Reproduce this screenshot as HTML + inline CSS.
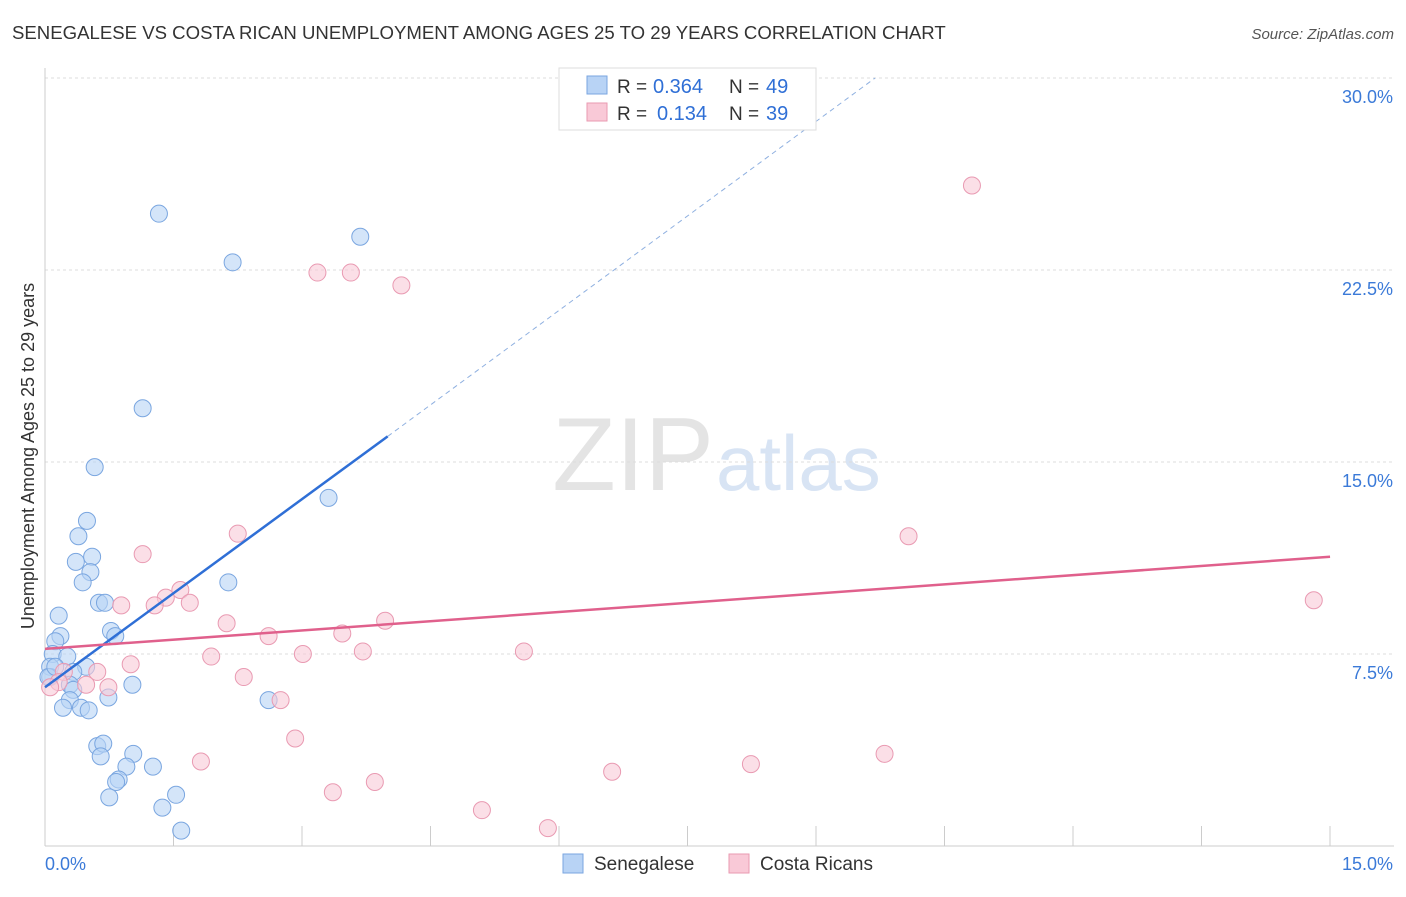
<!DOCTYPE html>
<html><head><meta charset="utf-8"><style>
body{margin:0;background:#fff;font-family:"Liberation Sans",sans-serif;}
svg text{font-family:"Liberation Sans",sans-serif;}
</style></head><body>
<svg width="1406" height="892" id="c">
<text x="12" y="39" font-size="18.6" fill="#333">SENEGALESE VS COSTA RICAN UNEMPLOYMENT AMONG AGES 25 TO 29 YEARS CORRELATION CHART</text>
<text x="1394" y="39" font-size="15" fill="#555" font-style="italic" text-anchor="end">Source: ZipAtlas.com</text>
<text x="714" y="490" font-size="104" fill="#e4e4e4" font-family="Liberation Serif" text-anchor="end">ZIP</text>
<text x="716" y="490" font-size="78" fill="#d8e4f4">atlas</text>
<text x="34" y="456" font-size="18" fill="#333" text-anchor="middle" transform="rotate(-90 34 456)">Unemployment Among Ages 25 to 29 years</text>
<g id="grid"></g><g id="marks"></g>
<g>
<rect x="559" y="68" width="257" height="62" fill="#fff" stroke="#ddd"/>
<rect x="587" y="76" width="20" height="18" fill="#b8d3f5" stroke="#7aa6e0"/>
<text x="617" y="93" font-size="19" fill="#333">R =</text>
<text x="653" y="93" font-size="20" fill="#2f6fd6">0.364</text>
<text x="729" y="93" font-size="19" fill="#333">N =</text>
<text x="766" y="93" font-size="20" fill="#2f6fd6">49</text>
<rect x="587" y="103" width="20" height="18" fill="#f9c9d7" stroke="#e99ab2"/>
<text x="617" y="120" font-size="19" fill="#333">R =</text>
<text x="657" y="120" font-size="20" fill="#2f6fd6">0.134</text>
<text x="729" y="120" font-size="19" fill="#333">N =</text>
<text x="766" y="120" font-size="20" fill="#2f6fd6">39</text>
</g>
<g>
<rect x="563" y="854" width="20" height="19" fill="#b8d3f5" stroke="#7aa6e0"/>
<text x="594" y="870" font-size="19" fill="#333">Senegalese</text>
<rect x="729" y="854" width="20" height="19" fill="#f9c9d7" stroke="#e99ab2"/>
<text x="760" y="870" font-size="19" fill="#333">Costa Ricans</text>
</g>
</svg>
<script>
const yTicks=[7.5,15,22.5,30];
const xTickLabels=["0.0%","15.0%"];
const blueX=[1.33,2.19,3.68,1.14,0.58,3.31,0.49,0.39,0.55,0.36,0.53,0.44,2.14,0.16,0.63,0.70,0.77,0.18,0.82,0.12,0.09,0.26,0.48,0.06,0.33,0.06,0.29,0.33,1.02,0.74,0.29,2.61,0.21,0.42,0.51,0.61,0.68,0.65,1.03,1.26,0.95,0.86,0.83,0.75,1.53,1.37,1.59,0.04,0.12];
const blueY=[24.7,22.8,23.8,17.1,14.8,13.6,12.7,12.1,11.3,11.1,10.7,10.3,10.3,9.0,9.5,9.5,8.4,8.2,8.2,8.0,7.5,7.4,7.0,7.0,6.8,6.6,6.3,6.1,6.3,5.8,5.7,5.7,5.4,5.4,5.3,3.9,4.0,3.5,3.6,3.1,3.1,2.6,2.5,1.9,2.0,1.5,0.6,6.6,7.0];
const pinkX=[10.82,3.18,3.57,4.16,10.08,2.25,1.14,1.58,1.41,1.28,1.69,0.89,2.12,3.97,2.61,3.47,3.71,5.59,1.94,3.01,1.00,0.61,0.22,2.32,0.48,0.16,0.74,2.75,0.06,2.92,1.82,9.80,8.24,6.62,3.85,3.36,5.10,5.87,14.81];
const pinkY=[25.8,22.4,22.4,21.9,12.1,12.2,11.4,10.0,9.7,9.4,9.5,9.4,8.7,8.8,8.2,8.3,7.6,7.6,7.4,7.5,7.1,6.8,6.8,6.6,6.3,6.4,6.2,5.7,6.2,4.2,3.3,3.6,3.2,2.9,2.5,2.1,1.4,0.7,9.6];
const blueTrend=[[0,6.2],[4.0,16.0],[9.69,30.0]];
const pinkTrend=[[0,7.7],[15,11.3]];
const X=v=>45+v*85.67, Y=v=>846-v*25.6;
const NS="http://www.w3.org/2000/svg";
function mk(t,a,p){const e=document.createElementNS(NS,t);for(const k in a)e.setAttribute(k,a[k]);p.appendChild(e);return e;}
const g=document.getElementById('grid'),m=document.getElementById('marks');
yTicks.forEach(t=>{
 const l=mk('line',{x1:45,x2:1394,y1:Y(t),y2:Y(t),stroke:'#ddd','stroke-dasharray':'3,3'},g);
 
 
 const tx=mk('text',{x:1393,y:Y(t)+25,'font-size':18,fill:'#3b7ad8','text-anchor':'end'},g);tx.textContent=t.toFixed(1)+'%';
 
 
});
const ax=mk('line',{x1:45,x2:45,y1:68,y2:846,stroke:'#ccc'},g);


const bx=mk('line',{x1:45,x2:1394,y1:846,y2:846,stroke:'#ccc'},g);


for(let i=0;i<=10;i++){const x=45+i*128.5;const t=mk('line',{x1:x,x2:x,y1:826,y2:846,stroke:'#ccc'},g);
 
 }
xTickLabels.forEach((s,i)=>{const t=mk('text',{x:i?1393:45,y:870,'font-size':18,fill:'#3b7ad8','text-anchor':i?'end':'start'},g);t.textContent=s;
 
 });
blueX.forEach((v,i)=>{const c=mk('circle',{cx:X(v),cy:Y(blueY[i]),r:8.5,fill:'#b8d3f5','fill-opacity':0.6,stroke:'#7aa6e0'},m);
 
 });
pinkX.forEach((v,i)=>{const c=mk('circle',{cx:X(v),cy:Y(pinkY[i]),r:8.5,fill:'#f9c9d7','fill-opacity':0.6,stroke:'#e99ab2'},m);
 
 });
const b1=mk('line',{x1:X(blueTrend[0][0]),y1:Y(blueTrend[0][1]),x2:X(blueTrend[1][0]),y2:Y(blueTrend[1][1]),stroke:'#2f6fd6','stroke-width':2.5},m);


const b2=mk('line',{x1:X(blueTrend[1][0]),y1:Y(blueTrend[1][1]),x2:X(blueTrend[2][0]),y2:Y(blueTrend[2][1]),stroke:'#8fb0e0','stroke-width':1,'stroke-dasharray':'5,4'},m);


const p1=mk('line',{x1:X(pinkTrend[0][0]),y1:Y(pinkTrend[0][1]),x2:X(pinkTrend[1][0]),y2:Y(pinkTrend[1][1]),stroke:'#e0608c','stroke-width':2.5},m);


</script>
</body></html>
